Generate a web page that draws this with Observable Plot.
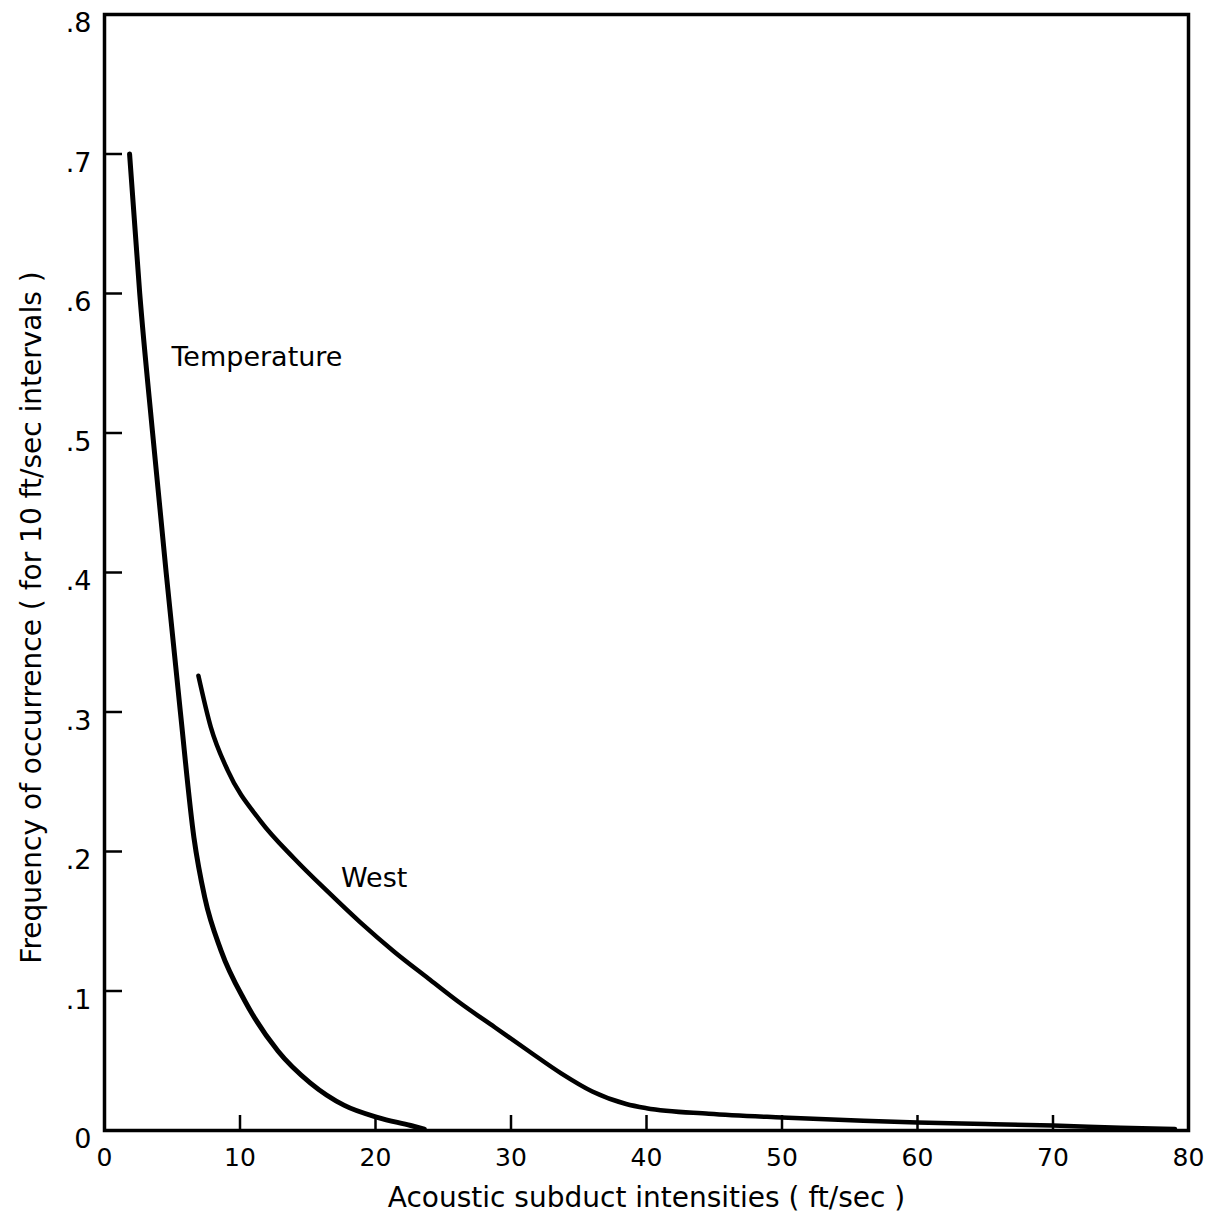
<!DOCTYPE html>
<html>
<head>
<meta charset="utf-8">
<script src="https://cdn.jsdelivr.net/npm/d3@7"></script>
<script src="https://cdn.jsdelivr.net/npm/@observablehq/plot@0.6"></script>
<style>
  html, body { margin: 0; padding: 0; background: #fff; }
  #chart { width: 1221px; height: 1214px; }
</style>
</head>
<body>
<div id="chart"></div>
<script>
// Temperature curve
const tempX = [1.85, 2.6, 3.55, 4.55, 5.6, 6.6, 7.4, 8.6, 10.35, 12.8, 15.2, 17.7, 20.2, 22.6, 23.6];
const tempY = [0.70, 0.60, 0.50, 0.40, 0.30, 0.21, 0.167, 0.129, 0.093, 0.057, 0.034, 0.018, 0.0093, 0.0036, 0.001];
// West curve
const westX = [6.93, 7.85, 9.1, 11.5, 14.0, 16.5, 18.9, 21.4, 23.9, 26.3, 28.8, 31.3, 33.7, 36.0, 38.5, 40, 44.6, 50, 56, 60, 65, 70, 75, 79];
const westY = [0.326, 0.289, 0.258, 0.222, 0.195, 0.171, 0.149, 0.128, 0.109, 0.091, 0.074, 0.057, 0.041, 0.028, 0.019, 0.016, 0.012, 0.0093, 0.007, 0.0057, 0.0047, 0.0036, 0.002, 0.001];

const xTicks = [0, 10, 20, 30, 40, 50, 60, 70, 80];
const yTicks = [0, 0.1, 0.2, 0.3, 0.4, 0.5, 0.6, 0.7, 0.8];
const xInnerTicks = [10, 20, 30, 40, 50, 60, 70];
const yInnerTicks = [0.1, 0.2, 0.3, 0.4, 0.5, 0.6, 0.7];

const curveLabels = [
  {x: 11.25, y: 0.554, text: "Temperature"},
  {x: 19.9, y: 0.181, text: "West"}
];
const xTitle = ["Acoustic subduct intensities ( ft/sec )"];
const yTitle = ["Frequency of occurrence ( for 10 ft/sec intervals )"];

const temp = tempX.map((x, i) => ({x, y: tempY[i]}));
const west = westX.map((x, i) => ({x, y: westY[i]}));
const yFmt = d => d === 0 ? "0" : d3.format(".1f")(d).replace(/^0/, "");

const font = "DejaVu Sans";
const chart = Plot.plot({
  width: 1221,
  height: 1214,
  marginLeft: 104,
  marginRight: 33,
  marginTop: 14,
  marginBottom: 84,
  style: {fontFamily: font, background: "#fff", color: "#000"},
  x: {domain: [0, 80]},
  y: {domain: [0, 0.8]},
  marks: [
    Plot.axisX(xInnerTicks, {tickSize: -15, strokeWidth: 2.5, tickFormat: () => "", label: null}),
    Plot.axisX(xTicks, {tickSize: 0, tickPadding: 18, fontSize: 25, label: null}),
    Plot.axisY(yInnerTicks, {tickSize: -18, strokeWidth: 2.5, tickFormat: () => "", label: null}),
    Plot.axisY(yTicks, {tickSize: 0, tickPadding: 13, dy: 9, fontSize: 27, tickFormat: yFmt, label: null}),
    Plot.frame({strokeWidth: 3.5}),
    Plot.line(temp, {x: "x", y: "y", curve: "monotone-x", strokeWidth: 5}),
    Plot.line(west, {x: "x", y: "y", curve: "monotone-x", strokeWidth: 4.5}),
    Plot.text(curveLabels, {x: "x", y: "y", text: "text", fontSize: 27}),
    Plot.text(xTitle, {text: d => d, frameAnchor: "bottom", textAnchor: "middle", dy: 76, fontSize: 28, letterSpacing: 1.2}),
    Plot.text(yTitle, {text: d => d, frameAnchor: "left", textAnchor: "middle", dx: -72, dy: 45, rotate: -90, fontSize: 28, letterSpacing: 2})
  ]
});
document.getElementById("chart").appendChild(chart);
</script>
</body>
</html>
